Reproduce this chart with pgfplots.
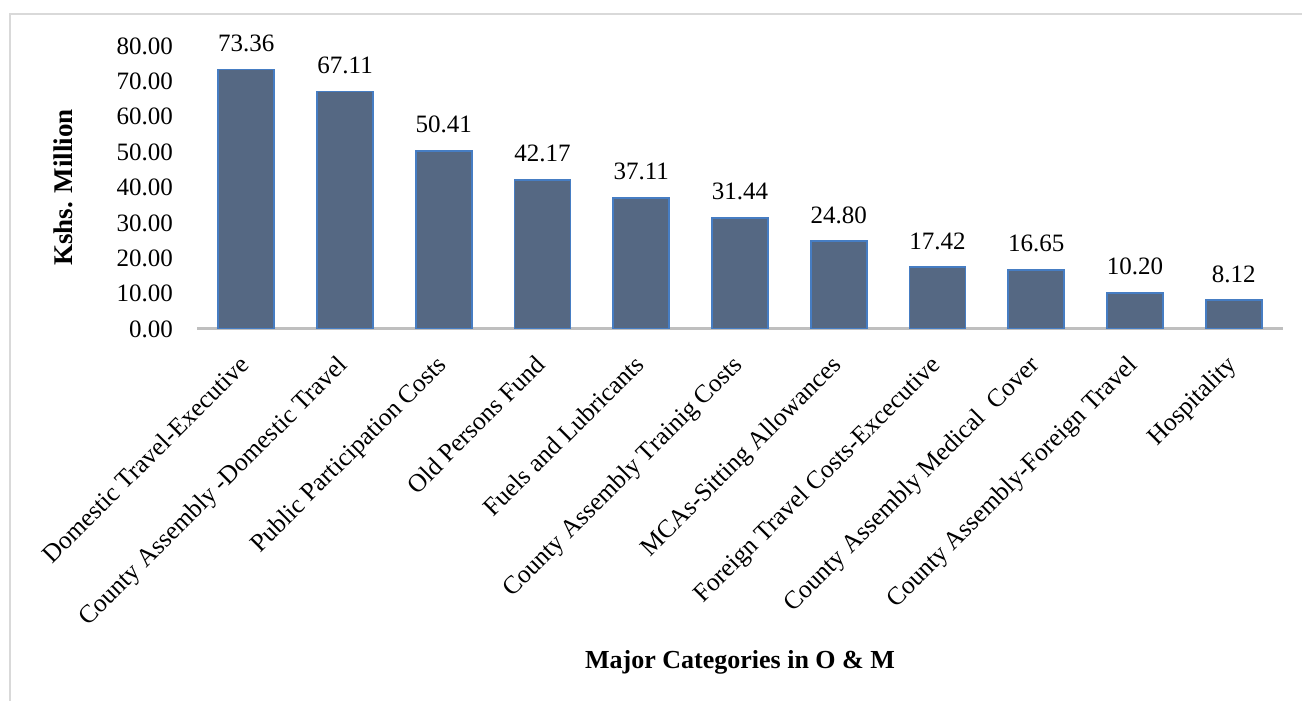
\documentclass[border=0pt]{standalone}
\usepackage{pgfplots}
\pgfplotsset{compat=1.18}
\usepackage{fontspec}
\setmainfont{Liberation Serif}
\definecolor{barfill}{RGB}{85,104,131}
\definecolor{baredge}{RGB}{70,125,195}
\definecolor{axisgray}{RGB}{191,191,191}
\definecolor{framegray}{RGB}{217,217,217}

\begin{document}
\begin{tikzpicture}[x=1bp,y=1bp]
\useasboundingbox (0,0) rectangle (1302,700);
% chart frame
\draw[framegray, line width=1.5bp] (10,-5) -- (10,686) -- (1310,686);
\begin{axis}[
  at={(197bp,371bp)}, anchor=south west,
  scale only axis, width=1086bp, height=283bp,
  xmin=-0.5, xmax=10.5, ymin=0, ymax=80,
  ybar, bar width=56bp,
  /pgf/number format/assume math mode=true,
  axis x line*=bottom, axis y line*=left,
  x axis line style={draw=axisgray, line width=3bp, -},
  y axis line style={draw=none},
  major tick length=0pt,
  xtick=data,
  xticklabels={Domestic Travel-Executive, County Assembly -Domestic Travel, Public Participation Costs, Old Persons Fund, Fuels and Lubricants, County Assembly Trainig Costs, MCAs-Sitting Allowances, Foreign Travel Costs-Excecutive, {County Assembly Medical\ \ Cover}, County Assembly-Foreign Travel, Hospitality},
  xticklabel style={yshift=-37bp, xshift=4bp, rotate=45, anchor=base east, inner sep=0pt,
    font=\fontsize{25.5bp}{30bp}\selectfont},
  ytick={0,10,...,80},
  yticklabel style={/pgf/number format/.cd, fixed, fixed zerofill, precision=2,
    /tikz/.cd, anchor=east, inner sep=0pt, xshift=-24bp,
    font=\fontsize{25bp}{30bp}\selectfont},
  nodes near coords={\pgfmathprintnumber[fixed,fixed zerofill,precision=2]{\pgfplotspointmeta}},
  nodes near coords style={anchor=south, inner sep=0pt, yshift=17bp,
    font=\fontsize{25bp}{30bp}\selectfont},
  xlabel={\textbf{Major Categories in O \& M}},
  xlabel style={at={(axis description cs:0.5,-1.198)}, anchor=base,
    font=\fontsize{26bp}{31bp}\selectfont},
  ylabel={\textbf{Kshs. Million}},
  ylabel style={at={(axis description cs:-0.1234,0.5)}, anchor=center,
    font=\fontsize{27bp}{32bp}\selectfont},
]
\addplot[fill=barfill, draw=baredge, line width=1.8bp] coordinates {
  (0,73.36) (1,67.11) (2,50.41) (3,42.17) (4,37.11) (5,31.44)
  (6,24.80) (7,17.42) (8,16.65) (9,10.20) (10,8.12)
};
\end{axis}
\end{tikzpicture}
\end{document}
